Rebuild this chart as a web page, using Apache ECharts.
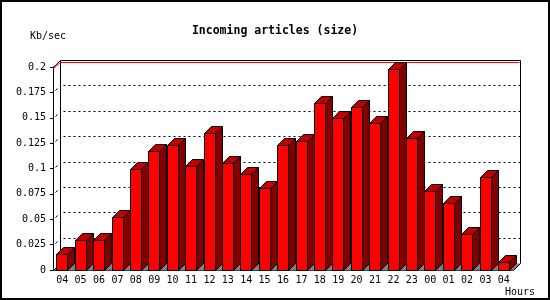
<!DOCTYPE html>
<html>
<head>
<meta charset="utf-8">
<script src="https://cdn.jsdelivr.net/npm/echarts@6/dist/echarts.min.js"></script>
<style>
html,body{margin:0;padding:0;background:#fff;}
#c{width:550px;height:300px;}
</style>
</head>
<body>
<div id="c"></div>
<script>
var hours = ['04','05','06','07','08','09','10','11','12','13','14','15','16','17','18','19','20','21','22','23','00','01','02','03','04'];
var values = [0.0155,0.0296,0.0296,0.0523,0.0993,0.1177,0.1227,0.1026,0.1349,0.1053,0.0947,0.0806,0.1230,0.1270,0.1645,0.1497,0.1605,0.1447,0.1980,0.1300,0.0783,0.0658,0.0352,0.0915,0.0075];
var gridValues = [0.025,0.05,0.075,0.1,0.125,0.15,0.175];
var yMax = 0.2;

var D = 7;
var FONT = 'DejaVu Sans Mono';
function px(v){ return Math.round(v) + 0.5; }

function renderFrame(params, api){
  var cs = params.coordSys;
  var x0 = px(cs.x), y0 = px(cs.y), x1 = px(cs.x + cs.width), y1 = px(cs.y + cs.height);
  return {type:'group', children:[
    {type:'polygon', shape:{points:[[x0,y1],[x1,y1],[x1+D,y1-D],[x0+D,y1-D]]}, style:{fill:'#808080', stroke:null}},
    {type:'polyline', shape:{points:[[x0+D,y0-D],[x0+D,y1-D]]}, style:{stroke:'#000', lineWidth:1, fill:null}},
    {type:'polyline', shape:{points:[[x0,y1],[x0+D,y1-D]]}, style:{stroke:'#000', lineWidth:1, fill:null}},
    {type:'polyline', shape:{points:[[x1,y1],[x1+D,y1-D]]}, style:{stroke:'#000', lineWidth:1, fill:null}},
    {type:'polyline', shape:{points:[[x0,y0+1],[x0+D,y0-D+2],[x1+D-1,y0-D+2]]}, style:{stroke:'#ff0000', lineWidth:1, fill:null}},
    {type:'polyline', shape:{points:[[x0,y0],[x0+D,y0-D],[x1+D,y0-D],[x1+D,y1-D]]}, style:{stroke:'#000', lineWidth:1, fill:null}}
  ]};
}

function renderGrid(params, api){
  var cs = params.coordSys;
  var x0 = px(cs.x), x1 = px(cs.x + cs.width);
  var y = px(api.coord([0, api.value(1)])[1]);
  return {type:'group', children:[
    {type:'line', shape:{x1:x0+D+3, y1:y-D, x2:x1+D, y2:y-D}, style:{stroke:'#000', lineWidth:1, lineDash:[2,3]}},
    {type:'line', shape:{x1:x0+2, y1:y-2, x2:x0+4, y2:y-4}, style:{stroke:'#000', lineWidth:1}}
  ]};
}

function renderBar(params, api){
  var c = api.coord([api.value(0), 0]);
  var t = api.coord([api.value(0), api.value(1)]);
  var bw = api.size([1, 0])[0];
  var L = px(c[0] - bw * 0.315), R = L + Math.round(bw * 0.6);
  var B = px(c[1]), T = px(t[1]);
  return {type:'group', children:[
    {type:'polygon', shape:{points:[[R,B],[R+D,B-D],[R+D,T-D],[R,T]]}, style:{fill:'#800000', stroke:'#000', lineWidth:1}},
    {type:'polygon', shape:{points:[[L,T],[L+D,T-D],[R+D,T-D],[R,T]]}, style:{fill:'#c00000', stroke:'#000', lineWidth:1}},
    {type:'rect', shape:{x:L, y:T, width:R-L, height:B-T}, style:{fill:'#ff0000', stroke:'#000', lineWidth:1}}
  ]};
}

var chart = echarts.init(document.getElementById('c'), null, {renderer:'canvas'});
chart.setOption({
  animation: false,
  backgroundColor: '#fff',
  title: {
    text: 'Incoming articles (size)',
    left: 'center', top: 20,
    textStyle: {fontFamily: FONT, fontWeight: 'bold', fontSize: 11.5, color: '#000'}
  },
  graphic: [
    {type:'rect', shape:{x:1, y:1, width:548, height:298}, style:{fill:null, stroke:'#000', lineWidth:2}, silent:true},
    {type:'text', left:30, top:31, style:{text:'Kb/sec', font:'10px ' + FONT, fill:'#000'}},
    {type:'text', left:505, top:287, style:{text:'Hours', font:'10px ' + FONT, fill:'#000'}}
  ],
  grid: {left: 53, right: 37, top: 67, bottom: 30, containLabel: false},
  xAxis: {
    type: 'category', data: hours,
    axisLine: {lineStyle: {color: '#000', width: 1}},
    axisTick: {length: 3, lineStyle: {color: '#000'}},
    axisLabel: {fontFamily: FONT, fontSize: 10, color: '#000', margin: 5, interval: 0},
    splitLine: {show: false}
  },
  yAxis: {
    type: 'value', min: 0, max: yMax, interval: 0.025,
    axisLine: {show: true, lineStyle: {color: '#000', width: 1}},
    axisTick: {show: true, length: 3, lineStyle: {color: '#000'}},
    axisLabel: {fontFamily: FONT, fontSize: 10, color: '#000', margin: 7},
    splitLine: {show: false}
  },
  series: [
    {type:'custom', name:'frame', renderItem: renderFrame, data:[[0, 0]], z:1, silent:true, clip:false},
    {type:'custom', name:'grid', renderItem: renderGrid, data: gridValues.map(function(v){ return [0, v]; }), z:2, silent:true, clip:false},
    {type:'custom', name:'size', renderItem: renderBar, data: values.map(function(v, i){ return [i, v]; }), z:3, clip:false}
  ]
});
</script>
</body>
</html>
